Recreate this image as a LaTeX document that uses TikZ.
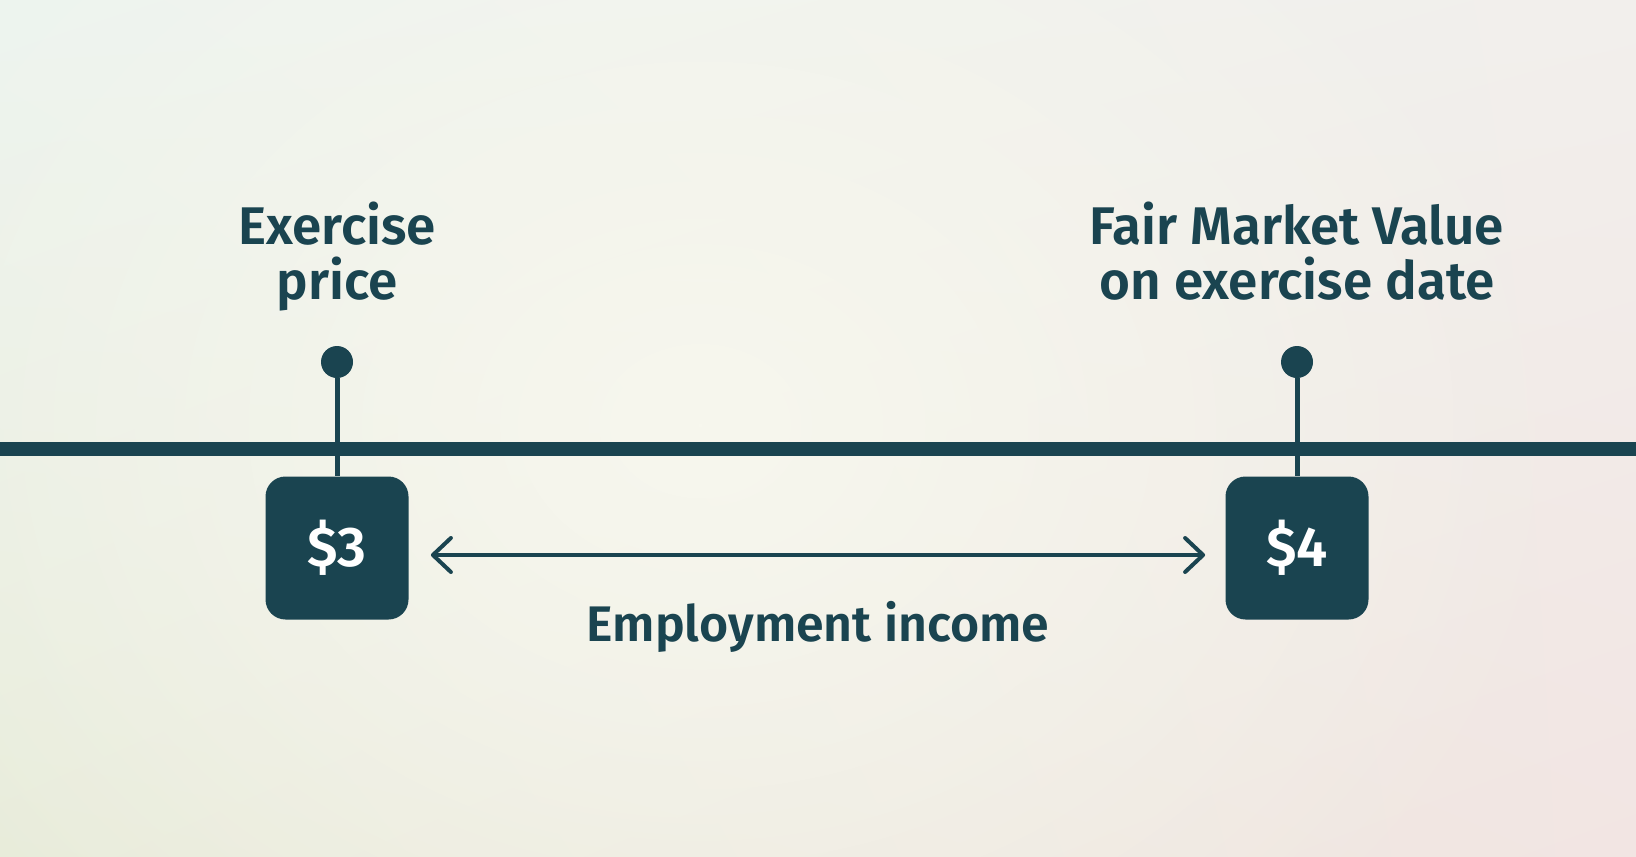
\documentclass[tikz,border=0pt]{standalone}
\usepackage{fontspec}
\IfFontExistsTF{Fira Sans SemiBold}
  {\setmainfont{Fira Sans}[BoldFont={Fira Sans SemiBold}]}
  {\setmainfont{Fira Sans}}
\usepackage{tikz}
\usetikzlibrary{arrows.meta,fadings,shadings}

\definecolor{deepteal}{RGB}{26,68,80}
\definecolor{bgTL}{HTML}{EDF4EF}
\definecolor{bgTR}{HTML}{F2EFEC}
\definecolor{bgBL}{HTML}{E8ECDA}
\definecolor{bgBR}{HTML}{F2E5E3}
\definecolor{bgMid}{HTML}{F7F7EE}
\tikzfading[name=glow,inner color=transparent!0,outer color=transparent!100]

\begin{document}
\begin{tikzpicture}[x=0.5pt,y=-0.5pt,
    pin/.style={circle,fill=deepteal,inner sep=0pt,minimum size=16pt},
    pricebox/.style={fill=deepteal,rounded corners=10pt,minimum size=71.5pt,inner sep=0pt,
      text=white,font=\bfseries\fontsize{28}{32}\selectfont},
    title/.style={text=deepteal,align=center,inner sep=0pt,anchor=north,
      font=\bfseries\fontsize{26.5}{27.5}\selectfont},
    caption/.style={text=deepteal,inner sep=0pt,anchor=base,
      font=\bfseries\fontsize{25}{30}\selectfont},
    stem/.style={deepteal,line width=2.5pt},
    span/.style={deepteal,line width=2pt,{Straight Barb[length=9pt,width=17pt,round]}-{Straight Barb[length=9pt,width=17pt,round]}}]
  \useasboundingbox (0,0) rectangle (1636,856);
  % background
  \shade[upper left=bgTL,upper right=bgTR,lower left=bgBL,lower right=bgBR] (0,0) rectangle (1636,856);
  \fill[bgMid,path fading=glow] (-200,-300) rectangle (1600,1150);
  % time axis
  \coordinate (axisL) at (0,449);
  \coordinate (axisR) at (1636,449);
  \draw[deepteal,line width=7pt] (axisL) -- (axisR);
  % exercise price
  \node[pin] (pinA) at (337,362) {};
  \node[pricebox] (boxA) at (337,548) {\$3};
  \node[title] (titleA) at (337,202) {Exercise\\price};
  % fair market value
  \node[pin] (pinB) at (1297,362) {};
  \node[pricebox] (boxB) at (1297,548) {\$4};
  \node[title] (titleB) at (1297,202) {Fair Market Value\\on exercise date};
  \draw[stem] (pinA) -- (boxA);
  \draw[stem] (pinB) -- (boxB);
  % difference
  \draw[span,shorten <=11pt,shorten >=10pt] ([yshift=-3.5pt]boxA.east) -- ([yshift=-3.5pt]boxB.west);
  \node[caption] (income) at (818,641) {Employment income};
\end{tikzpicture}
\end{document}
